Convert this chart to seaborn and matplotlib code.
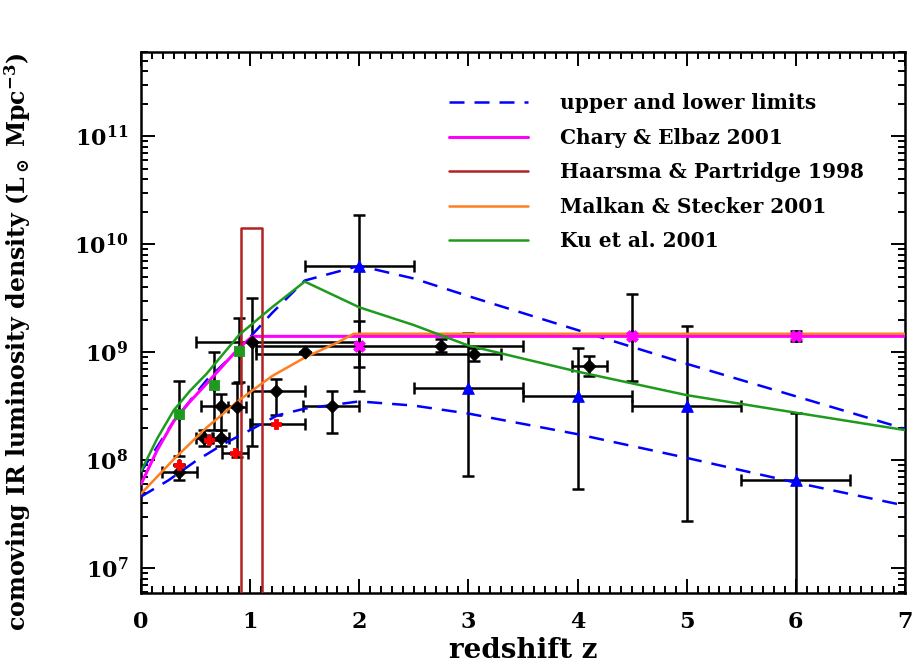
import numpy as np
import pandas as pd
import matplotlib
matplotlib.use("Agg")
import matplotlib.pyplot as plt
import seaborn as sns
from matplotlib.ticker import LogLocator, MultipleLocator, LogFormatterMathtext, NullFormatter

# ---------------- model curves ----------------
z_upper = [0, 0.3, 0.6, 0.9, 1.2, 1.5, 2.0, 2.5, 3.0, 4.0, 5.0, 6.0, 7.0]
L_upper = [7.8e7, 2.3e8, 5.5e8, 1.07e9, 2.3e9, 4.6e9, 6.3e9, 4.8e9, 3.3e9, 1.6e9, 7.8e8, 3.9e8, 1.95e8]

z_lower = [0, 0.25, 0.5, 0.75, 1.0, 1.25, 1.5, 2.0, 2.5, 3.0, 4.0, 5.0, 6.0, 7.0]
L_lower = [4.6e7, 6.5e7, 9.8e7, 1.4e8, 1.9e8, 2.6e8, 3.0e8, 3.5e8, 3.2e8, 2.7e8, 1.74e8, 1.05e8, 6.2e7, 3.8e7]

z_chary = [0, 0.15, 0.3, 0.45, 0.6, 0.75, 0.9, 1.02, 7.0]
L_chary = [6.0e7, 1.25e8, 2.3e8, 3.5e8, 5.1e8, 7.5e8, 1.1e9, 1.4e9, 1.4e9]

z_haarsma = [0.92, 0.92, 1.11, 1.11]
L_haarsma = [1e6, 1.4e10, 1.4e10, 1e6]

z_malkan = [0, 0.3, 0.6, 0.9, 1.2, 1.5, 1.8, 1.95, 7.0]
L_malkan = [4.9e7, 1.02e8, 2.0e8, 3.6e8, 6.0e8, 8.9e8, 1.23e9, 1.48e9, 1.48e9]

z_ku = [0, 0.15, 0.3, 0.45, 0.6, 0.9, 1.2, 1.5, 2.0, 2.5, 3.0, 4.0, 5.0, 6.0, 7.0]
L_ku = [7.9e7, 1.6e8, 2.9e8, 4.4e8, 6.3e8, 1.45e9, 2.6e9, 4.5e9, 2.6e9, 1.78e9, 1.15e9, 6.6e8, 4.0e8, 2.75e8, 1.9e8]

legend_labels = ["upper and lower limits", "Chary & Elbaz 2001",
                 "Haarsma & Partridge 1998", "Malkan & Stecker 2001", "Ku et al. 2001"]

# ---------------- data points ----------------
# blue triangles
tri_z = [2.0, 3.0, 4.0, 5.0, 6.0]
tri_L = [6.3e9, 4.7e8, 3.9e8, 3.2e8, 6.5e7]
tri_Llo = [4.4e8, 7.1e7, 5.4e7, 2.75e7, 1e6]
tri_Lhi = [1.86e10, 1.5e9, 1.1e9, 1.74e9, 2.75e8]
tri_zlo = [1.5, 2.5, 3.5, 4.5, 5.5]
tri_zhi = [2.5, 3.5, 4.5, 5.5, 6.5]

# magenta crosses
mag_z = [2.0, 4.5, 6.0]
mag_L = [1.15e9, 1.4e9, 1.4e9]
mag_Llo = [7.3e8, 5.4e8, 1.26e9]
mag_Lhi = [1.95e9, 3.45e9, 1.56e9]

# green squares
sq_z = [0.35, 0.67, 0.9]
sq_L = [2.7e8, 5.0e8, 1.02e9]
sq_Llo = [1.1e8, 1.9e8, 5.3e8]
sq_Lhi = [5.4e8, 1.0e9, 2.05e9]

# black diamonds
blk_z = [0.35, 0.58, 0.73, 0.73, 0.88, 1.02, 1.24, 1.5, 1.75, 2.75, 3.05, 4.1]
blk_L = [7.8e7, 1.6e8, 1.6e8, 3.2e8, 3.1e8, 1.24e9, 4.4e8, 1.0e9, 3.2e8, 1.15e9, 9.6e8, 7.4e8]
blk_zlo = [0.19, 0.5, 0.65, 0.55, 0.8, 0.5, 0.98, 1.5, 1.48, 1.05, 1.05, 3.95]
blk_zhi = [0.51, 0.66, 0.81, 0.88, 0.96, 2.0, 1.5, 1.5, 2.0, 3.5, 3.3, 4.27]
blk_Llo = [6.5e7, 1.35e8, 1.35e8, 1.55e8, 1.07e8, 1.35e8, 2.6e8, 1.0e9, 1.8e8, 1.0e9, 8.3e8, 6.0e8]
blk_Lhi = [9.3e7, 1.9e8, 1.9e8, 4.1e8, 5.2e8, 3.2e9, 5.6e8, 1.0e9, 4.4e8, 1.32e9, 1.1e9, 9.3e8]

# red stars
red_z = [0.35, 0.62, 0.86, 1.24]
red_L = [9.1e7, 1.55e8, 1.17e8, 2.15e8]
red_zlo = [0.35, 0.62, 0.74, 1.0]
red_zhi = [0.35, 0.62, 0.98, 1.5]

# ---------------- style ----------------
sns.set_theme(style="ticks")
plt.rcParams["font.family"] = ["DejaVu Serif"]
plt.rcParams["font.weight"] = "bold"
plt.rcParams["mathtext.fontset"] = "dejavuserif"
plt.rcParams["axes.labelweight"] = "bold"
plt.rcParams["text.color"] = "black"
plt.rcParams["axes.labelcolor"] = "black"
plt.rcParams["xtick.color"] = "black"
plt.rcParams["ytick.color"] = "black"

fig = plt.figure(figsize=(9.2, 6.72), dpi=100)
ax = fig.add_axes([0.1533, 0.1176, 0.8304, 0.805])
ax.set_yscale("log")

c_blue = "#0000ff"
c_mag = "#ff00ff"
c_dred = "#b22222"
c_orange = "#ff7f1e"
c_green = "#1e9a1e"


def bars(zc, Lc, zlo, zhi, Llo, Lhi):
    zc = np.asarray(zc); Lc = np.asarray(Lc)
    xerr = [zc - np.asarray(zlo), np.asarray(zhi) - zc]
    yerr = [Lc - np.asarray(Llo), np.asarray(Lhi) - Lc]
    ax.errorbar(zc, Lc, xerr=xerr, yerr=yerr, fmt="none", ecolor="black",
                elinewidth=1.8, capsize=4, capthick=1.8, zorder=2)


bars(tri_z, tri_L, tri_zlo, tri_zhi, tri_Llo, tri_Lhi)
bars(mag_z, mag_L, mag_z, mag_z, mag_Llo, mag_Lhi)
bars(sq_z, sq_L, sq_z, sq_z, sq_Llo, sq_Lhi)
bars(blk_z, blk_L, blk_zlo, blk_zhi, blk_Llo, blk_Lhi)
bars(red_z, red_L, red_zlo, red_zhi, red_L, red_L)

# curves
lw = 1.8
sns.lineplot(x=z_upper, y=L_upper, ax=ax, color=c_blue, lw=lw, estimator=None, sort=False,
             label=legend_labels[0], zorder=3).lines[-1].set_dashes([6, 4])
sns.lineplot(x=z_lower, y=L_lower, ax=ax, color=c_blue, lw=lw, estimator=None, sort=False,
             zorder=3).lines[-1].set_dashes([6, 4])
sns.lineplot(x=z_chary, y=L_chary, ax=ax, color=c_mag, lw=2.2, estimator=None, sort=False,
             label=legend_labels[1], zorder=3)
sns.lineplot(x=z_haarsma, y=L_haarsma, ax=ax, color=c_dred, lw=lw, estimator=None, sort=False,
             label=legend_labels[2], zorder=3)
sns.lineplot(x=z_malkan, y=L_malkan, ax=ax, color=c_orange, lw=lw, estimator=None, sort=False,
             label=legend_labels[3], zorder=3)
sns.lineplot(x=z_ku, y=L_ku, ax=ax, color=c_green, lw=lw, estimator=None, sort=False,
             label=legend_labels[4], zorder=3)

# markers
sns.scatterplot(x=tri_z, y=tri_L, ax=ax, marker="^", color=c_blue, s=70, edgecolor=c_blue, zorder=4)
sns.scatterplot(x=mag_z, y=mag_L, ax=ax, marker="X", color=c_mag, s=70, edgecolor=c_mag, zorder=4)
sns.scatterplot(x=sq_z, y=sq_L, ax=ax, marker="s", color=c_green, s=60, edgecolor=c_green, zorder=4)
sns.scatterplot(x=blk_z, y=blk_L, ax=ax, marker="D", color="black", s=45, edgecolor="black", zorder=4)
sns.scatterplot(x=red_z, y=red_L, ax=ax, marker="P", color="red", s=60, edgecolor="red", zorder=4)

# axes
ax.set_xlim(0, 7)
ax.set_ylim(5.9e6, 6e11)
ax.xaxis.set_major_locator(MultipleLocator(1))
ax.xaxis.set_minor_locator(MultipleLocator(0.1))
ax.yaxis.set_major_locator(LogLocator(base=10, numticks=20))
ax.yaxis.set_minor_locator(LogLocator(base=10, subs=np.arange(2, 10), numticks=50))
ax.yaxis.set_major_formatter(LogFormatterMathtext())
ax.yaxis.set_minor_formatter(NullFormatter())
ax.tick_params(which="both", direction="in", top=True, right=True, colors="black", width=1.4)
ax.tick_params(which="major", length=10, labelsize=16)
ax.tick_params(axis="x", which="major", pad=13)
ax.tick_params(axis="y", which="major", pad=9)
ax.tick_params(which="minor", length=5)
for sp in ax.spines.values():
    sp.set_linewidth(1.8)
    sp.set_color("black")

ax.set_xlabel("redshift z", fontsize=20, labelpad=3)
ax.set_ylabel(r"comoving IR luminosity density (L$_\odot$ Mpc$^{-3}$)", fontsize=17)
ax.yaxis.set_label_coords(-0.142, 0.465)

leg = ax.legend(loc="upper left", bbox_to_anchor=(0.38, 0.957), frameon=False,
                fontsize=14.5, handlelength=3.9, handletextpad=1.6, labelspacing=0.72)
for t in leg.get_texts():
    t.set_fontweight("bold")
    t.set_color("black")

fig.savefig("out.png", dpi=100)
